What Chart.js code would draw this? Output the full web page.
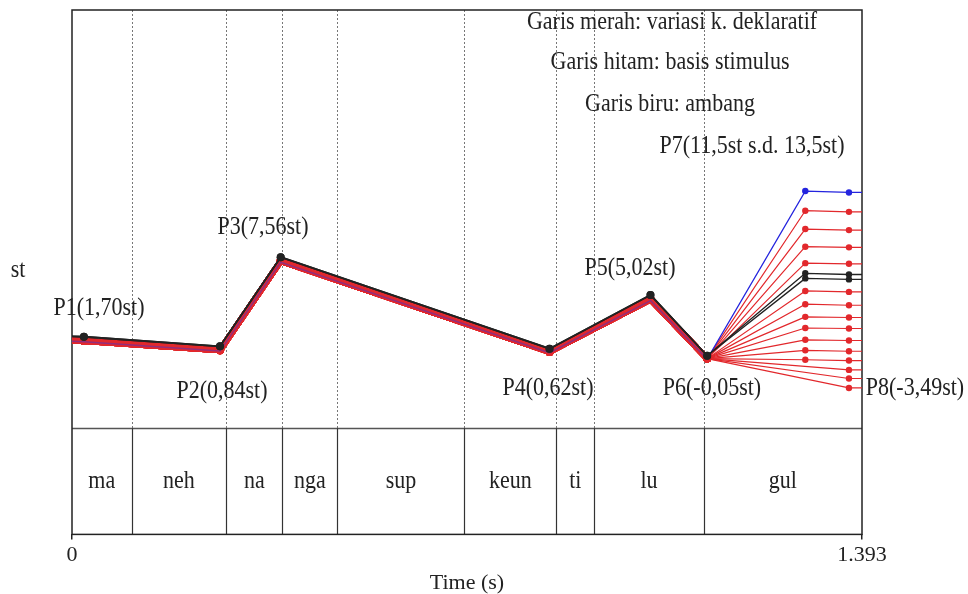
<!DOCTYPE html>
<html>
<head>
<meta charset="utf-8">
<script src="https://cdn.jsdelivr.net/npm/chart.js@4"></script>
<style>
  html, body { margin: 0; padding: 0; background: #fff; }
</style>
</head>
<body>
<canvas id="grafik" width="968" height="594"></canvas>
<script>
// suku kata dan batasnya (detik)
const suku = ["ma", "neh", "na", "nga", "sup", "keun", "ti", "lu", "gul"];
const batasSuku = [0, 0.105, 0.272, 0.371, 0.468, 0.692, 0.854, 0.921, 1.114, 1.393];
const durasi = 1.393;
const xTickNilai = [0, 1.393];
const xTickLabel = ["0", "1.393"];

// waktu titik kontur: awal, P1..P6
const waktuTitik = [0, 0.021, 0.261, 0.368, 0.842, 1.020, 1.120];
const waktuP7 = 1.293;
const waktuP8 = 1.370;

// nilai dalam semitone (st)
const basisSt = [1.74, 1.70, 0.84, 7.56, 0.62, 5.02, -0.05];
const deklaratifSt = [1.38, 1.33, 0.48, 7.31, 0.32, 4.69, -0.33];
const ambangSt = [1.30, 1.25, 0.40, 7.24, 0.24, 4.61, -0.38];

// variasi di P7 dan P8
const basisP7 = [6.52, 6.18];
const basisP8 = [6.44, 6.11];
const ambangP7 = 11.26;
const ambangP8 = 11.19;
const variasiP7 = [10.24, 9.23, 8.20, 7.18, 5.31, 4.34, 3.36, 2.45, 1.43, 0.47, -0.44, null, null, null];
const variasiP8 = [10.18, 9.17, 8.16, 7.14, 5.24, 4.26, 3.31, 2.41, 1.37, 0.38, -0.52, -1.48, -2.41, -3.49];

const labelTitik = ["P1(1,70st)", "P2(0,84st)", "P3(7,56st)", "P4(0,62st)", "P5(5,02st)", "P6(-0,05st)", "P7(11,5st s.d. 13,5st)", "P8(-3,49st)"];
const keterangan = ["Garis merah: variasi k. deklaratif", "Garis hitam: basis stimulus", "Garis biru: ambang"];

const SERIF = "'Liberation Serif', 'Times New Roman', serif";
const TEKS = "#222";
const MERAH = "rgb(226,40,44)";
const HITAM = "#222";
const BIRU = "rgb(36,36,222)";
const REF_HZ = 100;
const Y_MAX = 292.7;

const keHz = st => REF_HZ * Math.pow(2, st / 12);
const nUtama = waktuTitik.length;

function kontur(utama, p7, p8) {
  const pts = waktuTitik.map((t, i) => ({ x: t, y: keHz(utama[i]) }));
  if (p7 !== null) pts.push({ x: waktuP7, y: keHz(p7) });
  pts.push({ x: waktuP8, y: keHz(p8) });
  pts.push({ x: durasi, y: keHz(p8) });
  return pts;
}

function buatDataset(data, warna, warnaUtama, lebarUtama, lebarCabang, radiusUtama, urutan) {
  return {
    data: data,
    order: urutan,
    borderColor: warna,
    backgroundColor: warna,
    tension: 0,
    borderWidth: lebarCabang,
    borderJoinStyle: "round",
    segment: {
      borderWidth: ctx => ctx.p0DataIndex < nUtama - 1 ? lebarUtama : lebarCabang,
      borderColor: ctx => ctx.p0DataIndex < nUtama - 1 ? warnaUtama : warna
    },
    pointBorderWidth: 0,
    pointRadius: ctx => {
      const i = ctx.dataIndex;
      if (i === 0 || i === data.length - 1) return 0;
      return i < nUtama ? radiusUtama : 3.2;
    },
    pointBackgroundColor: warna
  };
}

const datasets = [];
basisP8.forEach((v, i) => {
  datasets.push(buatDataset(kontur(basisSt, basisP7[i], v), HITAM, HITAM, 1.8, 1.3, 4, 0));
});
datasets.push(buatDataset(kontur(ambangSt, ambangP7, ambangP8), BIRU, "rgba(80,50,190,0.55)", 1.5, 1.2, 0, 1));
variasiP8.forEach((v, i) => {
  datasets.push(buatDataset(kontur(deklaratifSt, variasiP7[i], v), MERAH, MERAH, 6, 1.2, 4, 2));
});

const tinggiPita = 106;

// teks serif sedikit dipanjangkan ke bawah
function tulis(ctx, teks, x, y) {
  ctx.save();
  ctx.translate(x, y);
  ctx.scale(1, 1.13);
  ctx.fillText(teks, 0, 0);
  ctx.restore();
}

const plugin = {
  id: "pitaSuku",
  beforeDatasetsDraw(chart) {
    const { ctx, chartArea: a, scales: { x } } = chart;
    const atasPita = a.bottom - tinggiPita;
    ctx.save();
    // garis putus-putus di batas suku kata
    ctx.strokeStyle = "#777";
    ctx.lineWidth = 1;
    ctx.setLineDash([2, 2]);
    for (let i = 1; i < batasSuku.length - 1; i++) {
      const px = Math.round(x.getPixelForValue(batasSuku[i])) + 0.5;
      ctx.beginPath();
      ctx.moveTo(px, a.top);
      ctx.lineTo(px, atasPita);
      ctx.stroke();
    }
    ctx.setLineDash([]);
    // pita suku kata
    ctx.strokeStyle = "#555";
    ctx.lineWidth = 1.5;
    ctx.beginPath();
    ctx.moveTo(a.left, atasPita);
    ctx.lineTo(a.right, atasPita);
    ctx.stroke();
    ctx.strokeStyle = "#333";
    ctx.lineWidth = 1.2;
    for (let i = 1; i < batasSuku.length - 1; i++) {
      const px = Math.round(x.getPixelForValue(batasSuku[i])) + 0.5;
      ctx.beginPath();
      ctx.moveTo(px, atasPita);
      ctx.lineTo(px, a.bottom);
      ctx.stroke();
    }
    ctx.fillStyle = TEKS;
    ctx.font = "22px " + SERIF;
    ctx.textAlign = "center";
    ctx.textBaseline = "middle";
    suku.forEach((s, i) => {
      const cx = (x.getPixelForValue(batasSuku[i]) + x.getPixelForValue(batasSuku[i + 1])) / 2;
      tulis(ctx, s, cx, atasPita + tinggiPita / 2);
    });
    // bingkai
    ctx.strokeStyle = "#222";
    ctx.lineWidth = 1.5;
    ctx.strokeRect(a.left, a.top, a.right - a.left, a.bottom - a.top);
    ctx.restore();
  },
  afterDatasetsDraw(chart) {
    const { ctx } = chart;
    const posLabel = [[99, 308], [222, 391], [263, 227], [548, 388], [630, 268], [712, 388], [752, 146], [915, 388]];
    const posKet = [[672, 22], [670, 62], [670, 104]];
    ctx.save();
    ctx.fillStyle = TEKS;
    ctx.font = "22px " + SERIF;
    ctx.textAlign = "center";
    ctx.textBaseline = "middle";
    labelTitik.forEach((t, i) => tulis(ctx, t, posLabel[i][0], posLabel[i][1]));
    keterangan.forEach((t, i) => tulis(ctx, t, posKet[i][0], posKet[i][1]));
    tulis(ctx, "st", 18, 270);
    ctx.restore();
  }
};

new Chart(document.getElementById("grafik").getContext("2d"), {
  type: "line",
  data: { datasets: datasets },
  options: {
    responsive: false,
    animation: false,
    layout: { padding: { left: 72, right: 106, top: 10, bottom: 0 } },
    plugins: { legend: { display: false }, tooltip: { enabled: false } },
    scales: {
      x: {
        type: "linear",
        min: 0,
        max: durasi,
        afterBuildTicks: s => { s.ticks = xTickNilai.map(v => ({ value: v })); },
        ticks: {
          autoSkip: false,
          maxRotation: 0,
          padding: 2,
          color: TEKS,
          font: { family: SERIF, size: 22, lineHeight: 1.3 },
          callback: (v, i) => xTickLabel[i]
        },
        grid: { drawOnChartArea: false, drawTicks: true, tickLength: 5, color: "#222", lineWidth: 1.5 },
        border: { display: false },
        title: {
          display: true,
          text: "Time (s)",
          color: TEKS,
          font: { family: SERIF, size: 22, lineHeight: 1.0 },
          padding: { top: 0, bottom: 0 }
        }
      },
      y: { display: false, min: 0, max: Y_MAX }
    }
  },
  plugins: [plugin]
});
</script>
</body>
</html>
